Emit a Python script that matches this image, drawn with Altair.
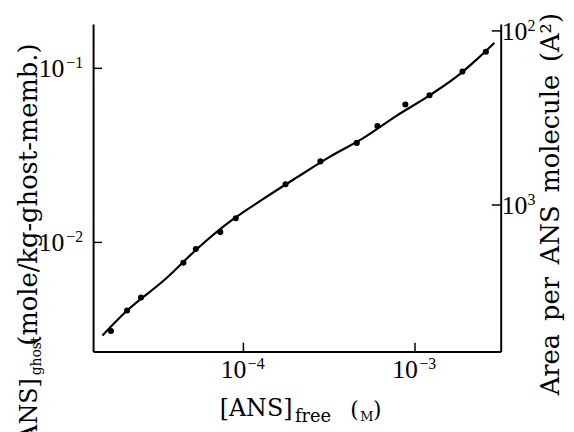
import altair as alt
import pandas as pd

# ---- data ----
ans_free = [1.69e-5, 2.10e-5, 2.53e-5, 4.47e-5, 5.28e-5, 7.33e-5, 9.03e-5,
            1.76e-4, 2.81e-4, 4.58e-4, 6.04e-4, 8.79e-4, 1.216e-3, 1.892e-3, 2.59e-3]
ans_ghost = [3.10e-3, 4.06e-3, 4.83e-3, 7.64e-3, 9.17e-3, 1.146e-2, 1.377e-2,
             2.16e-2, 2.92e-2, 3.73e-2, 4.66e-2, 6.20e-2, 7.00e-2, 9.58e-2, 0.1245]

curve_free = [1.507e-5, 2.10e-5, 3.50e-5, 5.44e-5, 8.48e-5, 1.32e-4, 2.06e-4,
              3.20e-4, 4.99e-4, 7.76e-4, 1.21e-3, 1.88e-3, 2.25e-3, 2.90e-3]
curve_ghost = [2.92e-3, 4.06e-3, 6.14e-3, 9.29e-3, 1.333e-2, 1.79e-2, 2.37e-2,
               3.11e-2, 3.97e-2, 5.32e-2, 6.97e-2, 9.49e-2, 0.1107, 0.140]

x_ticks = [1e-4, 1e-3]
x_exp = ["\u22124", "\u22123"]
y_ticks = [1e-2, 1e-1]
y_exp = ["\u22122", "\u22121"]
area_ticks = [100, 1000]
area_exp = ["2", "3"]

X_DOMAIN = [1.33e-5, 3.16e-3]
Y_DOMAIN = [2.36e-3, 0.1795]
AREA_K = 16.4  # area (A^2) = AREA_K / [ANS]ghost
AREA_DOMAIN = [AREA_K / Y_DOMAIN[1], AREA_K / Y_DOMAIN[0]]

W, H = 412, 331
TICK_FONT = "Liberation Serif"
TITLE_FONT = "DejaVu Serif"

xscale = alt.Scale(type="log", domain=X_DOMAIN, nice=False)
yscale = alt.Scale(type="log", domain=Y_DOMAIN, nice=False)
ascale = alt.Scale(type="log", domain=AREA_DOMAIN, nice=False, reverse=True)

common = dict(tickSize=0, ticks=False, labels=False, grid=False, title=None,
              domainColor="black", domainWidth=2)
x_axis = alt.Axis(values=x_ticks, **common)
y_axis = alt.Axis(values=y_ticks, **common)
a_axis = alt.Axis(values=area_ticks, orient="right", **common)

curve_df = pd.DataFrame({"free": curve_free, "ghost": curve_ghost})
pts_df = pd.DataFrame({"free": ans_free, "ghost": ans_ghost})
xt_df = pd.DataFrame({"free": x_ticks, "exp": x_exp})
yt_df = pd.DataFrame({"ghost": y_ticks, "exp": y_exp})
at_df = pd.DataFrame({"area": area_ticks, "exp": area_exp})

X = alt.X("free:Q", scale=xscale, axis=x_axis)
Y = alt.Y("ghost:Q", scale=yscale, axis=y_axis)
A = alt.Y("area:Q", scale=ascale, axis=a_axis)

line = alt.Chart(curve_df).mark_line(color="black", strokeWidth=2.2,
                                     interpolate="monotone").encode(x=X, y=Y)
points = alt.Chart(pts_df).mark_circle(color="black", size=38, opacity=1).encode(x=X, y=Y)

# inward tick marks
yticks = alt.Chart(yt_df).mark_rule(color="black", strokeWidth=1.5).encode(
    y=Y, x=alt.value(0), x2=alt.value(9))
xticks = alt.Chart(xt_df).mark_rule(color="black", strokeWidth=1.5).encode(
    x=X, y=alt.value(H), y2=alt.value(H - 9))

lab = dict(font=TICK_FONT, color="black", baseline="alphabetic")
# tick labels 10^n built from base + superscript
y10 = alt.Chart(yt_df).mark_text(text="10", fontSize=26, align="right", dy=9, **lab).encode(
    y=Y, x=alt.value(-29))
yex = alt.Chart(yt_df).mark_text(fontSize=16, align="left", dy=0, **lab).encode(
    y=Y, x=alt.value(-27), text="exp:N")
x10 = alt.Chart(xt_df).mark_text(text="10", fontSize=26, align="right", dx=3, **lab).encode(
    x=X, y=alt.value(358))
xex = alt.Chart(xt_df).mark_text(fontSize=16, align="left", dx=4.5, **lab).encode(
    x=X, y=alt.value(349), text="exp:N")


def txt(text, x, y, size, font=TITLE_FONT, angle=0, align="left"):
    return alt.Chart(pd.DataFrame({"t": [text]})).mark_text(
        text=text, font=font, fontSize=size, angle=angle, align=align,
        baseline="alphabetic", color="black").encode(
        x=alt.value(x), y=alt.value(y))


texts = [
    # x-axis title: [ANS]free (M)
    txt("[ANS]", 128, 396, 24),
    txt("free", 204, 402, 18),
    txt("(", 260, 397, 22),
    txt("M", 270, 401, 13),
    txt(")", 283, 397, 22),
    # left title: [ANS]ghost (mole/kg-ghost-memb.)
    txt("[ANS]", -57, 358, 24, angle=270, align="right"),
    txt("ghost", -53, 355, 14, angle=270),
    txt("(mole/kg-ghost-memb.)", -57, 325, 26, angle=270),
    # right title
    txt("Area\u2002per\u2002ANS\u2002molecule\u2002(A²)", 471, 182, 26, angle=270,
        align="center"),
]

inner = alt.layer(line, points, yticks, xticks, y10, yex, x10, xex, *texts)

rticks = alt.Chart(at_df).mark_rule(color="black", strokeWidth=1.5).encode(
    y=A, x=alt.value(W - 9), x2=alt.value(W))
r10 = alt.Chart(at_df).mark_text(text="10", fontSize=26, align="left", dy=9, **lab).encode(
    y=A, x=alt.value(W + 1))
rex = alt.Chart(at_df).mark_text(fontSize=16, align="left", dy=0, **lab).encode(
    y=A, x=alt.value(W + 27), text="exp:N")
right = alt.layer(rticks, r10, rex)

chart = alt.layer(inner, right).resolve_scale(y="independent").properties(
    width=W, height=H,
    padding={"left": 86, "top": 14, "right": 66, "bottom": 79},
    autosize=alt.AutoSizeParams(type="none"),
).configure_view(stroke=None)

chart.save("out.html", embed_options={"renderer": "svg", "actions": False})
